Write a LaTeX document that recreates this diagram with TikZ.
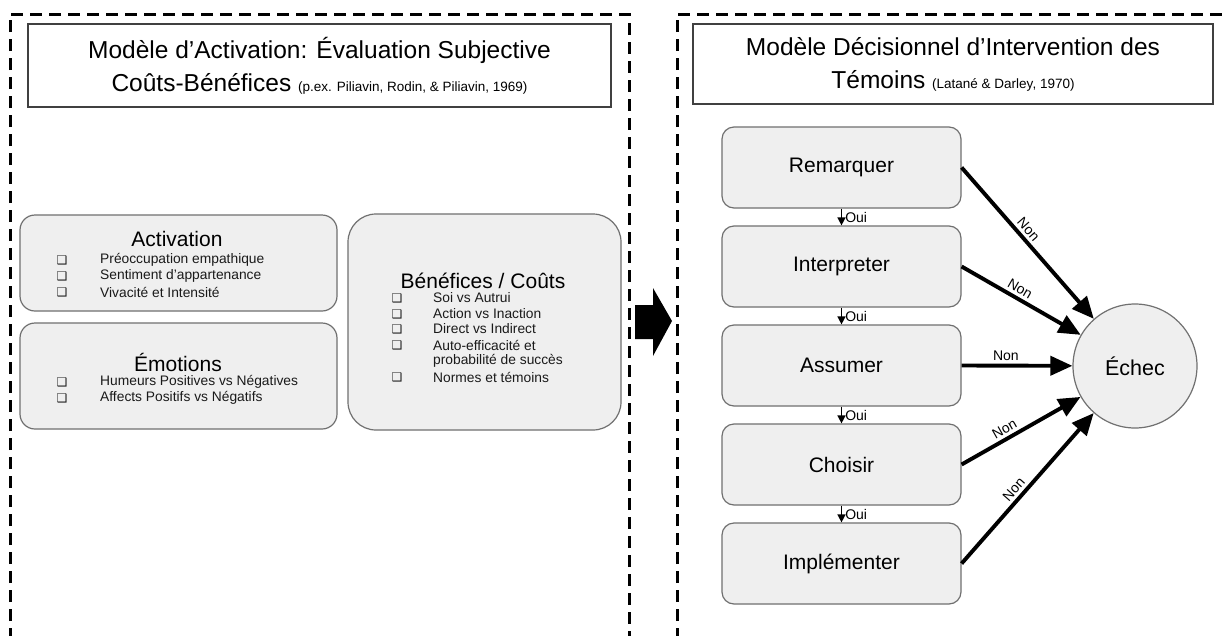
\documentclass[tikz,border=0pt]{standalone}
\usepackage{fontspec}
\setmainfont{Liberation Sans}
\newfontfamily\symfont{DejaVu Sans}
\usetikzlibrary{arrows.meta}

\definecolor{boxfill}{HTML}{EFEFEF}
\definecolor{boxline}{HTML}{707070}
\definecolor{itemtext}{HTML}{1A1A1A}
\newcommand\refsize{\fontsize{13.5}{16}\selectfont}

\begin{document}
\begin{tikzpicture}[x=1pt,y=-1pt,
  frame/.style={line width=3pt, dash pattern=on 12pt off 7pt},
  titlebox/.style={draw=black!75, line width=1.3pt, fill=white, align=center,
    font=\fontsize{24.5}{33}\selectfont},
  card/.style={draw=boxline, line width=1.2pt, fill=boxfill},
  heading/.style={font=\fontsize{21}{25}\selectfont, inner sep=0pt},
  item/.style={anchor=west, inner sep=0pt, text=itemtext,
    font=\fontsize{13.8}{16}\selectfont},
  bul/.style={inner sep=0pt, text=itemtext, font=\symfont\fontsize{12}{14}\selectfont},
  stepbox/.style={card, rounded corners=12pt, minimum width=239pt, minimum height=81pt,
    font=\fontsize{21}{25}\selectfont},
  ouiarrow/.style={line width=1.5pt, -{Triangle[length=8pt,width=8pt]}},
  nonarrow/.style={line width=3.9pt, -{Triangle[length=22pt,width=19pt]}},
  small/.style={font=\fontsize{14}{16}\selectfont, inner sep=3pt}]

\useasboundingbox (0,0) rectangle (1229,635);
\fill[white] (0,0) rectangle (1229,635);

% dashed panel frames
\draw[frame] (10,640) -- (10,14) -- (629,14) -- (629,640);
\draw[frame] (677,640) -- (677,14) -- (1235,14);

% ---------- left panel ----------
\node[titlebox, minimum width=583pt, minimum height=83pt] (ltitle) at (319.5,65.5)
  {Modèle d’Activation: Évaluation Subjective\\
   Coûts-Bénéfices {\refsize (p.ex. Piliavin, Rodin, \& Piliavin, 1969)}};

\node[card, rounded corners=15pt, minimum width=317pt, minimum height=96pt] (act) at (178.5,263) {};
\node[heading] (acth) at (177,239) {Activation};
\node[bul] (actb1) at (62,260) {❑}; \node[item] (acti1) at (100,260) {Préoccupation empathique};
\node[bul] (actb2) at (62,276) {❑}; \node[item] (acti2) at (100,276) {Sentiment d’appartenance};
\node[bul] (actb3) at (62,292) {❑}; \node[item] (acti3) at (100,292) {Vivacité et Intensité};

\node[card, rounded corners=15pt, minimum width=317pt, minimum height=106pt] (emo) at (178.5,376) {};
\node[heading] (emoh) at (178,362) {Émotions};
\node[bul] (emob1) at (62,382) {❑}; \node[item] (emoi1) at (100,382) {Humeurs Positives vs Négatives};
\node[bul] (emob2) at (62,398) {❑}; \node[item] (emoi2) at (100,398) {Affects Positifs vs Négatifs};

\node[card, rounded corners=28pt, minimum width=273pt, minimum height=216pt] (ben) at (484.5,322) {};
\node[heading] (benh) at (483,281) {Bénéfices / Coûts};
\node[bul] (benb1) at (397,298) {❑}; \node[item] (beni1) at (433,298) {Soi vs Autrui};
\node[bul] (benb2) at (397,314) {❑}; \node[item] (beni2) at (433,314) {Action vs Inaction};
\node[bul] (benb3) at (397,329) {❑}; \node[item] (beni3) at (433,329) {Direct vs Indirect};
\node[bul] (benb4) at (397,345) {❑}; \node[item] (beni4) at (433,345) {Auto-efficacité et};
\node[item] (beni5) at (433,361) {probabilité de succès};
\node[bul] (benb6) at (397,377) {❑}; \node[item] (beni6) at (433,377) {Normes et témoins};

% block arrow between the panels
\fill[black] (635,305) -- (653,305) -- (653,288) -- (672,321) -- (653,356) -- (653,339) -- (635,339) -- cycle;

% ---------- right panel ----------
\node[titlebox, minimum width=520pt, minimum height=80pt] (rtitle) at (953,64)
  {Modèle Décisionnel d’Intervention des\\
   Témoins {\refsize (Latané \& Darley, 1970)}};

\node[stepbox] (rem) at (841.5,167.5) {Remarquer};
\node[stepbox] (int) at (841.5,266.5) {Interpreter};
\node[stepbox] (ass) at (841.5,365.5) {Assumer};
\node[stepbox] (cho) at (841.5,464.5) {Choisir};
\node[stepbox] (imp) at (841.5,563.5) {Implémenter};

\node[card, circle, minimum size=124pt, font=\fontsize{21.5}{25}\selectfont] (echec) at (1135,366) {Échec};

\draw[ouiarrow] (rem.south) -- (int.north) node[midway, right, small] {Oui};
\draw[ouiarrow] (int.south) -- (ass.north) node[midway, right, small] {Oui};
\draw[ouiarrow] (ass.south) -- (cho.north) node[midway, right, small] {Oui};
\draw[ouiarrow] (cho.south) -- (imp.north) node[midway, right, small] {Oui};

\draw[nonarrow] (rem.east) -- (echec) node[pos=0.45, sloped, above, small] {Non};
\draw[nonarrow] (int.east) -- (echec) node[pos=0.45, sloped, above, small] {Non};
\draw[nonarrow] (ass.east) -- (echec) node[pos=0.4, sloped, above, small] {Non};
\draw[nonarrow] (cho.east) -- (echec) node[pos=0.4, sloped, above, small] {Non};
\draw[nonarrow] (imp.east) -- (echec) node[pos=0.45, sloped, above, small] {Non};
\end{tikzpicture}
\end{document}
